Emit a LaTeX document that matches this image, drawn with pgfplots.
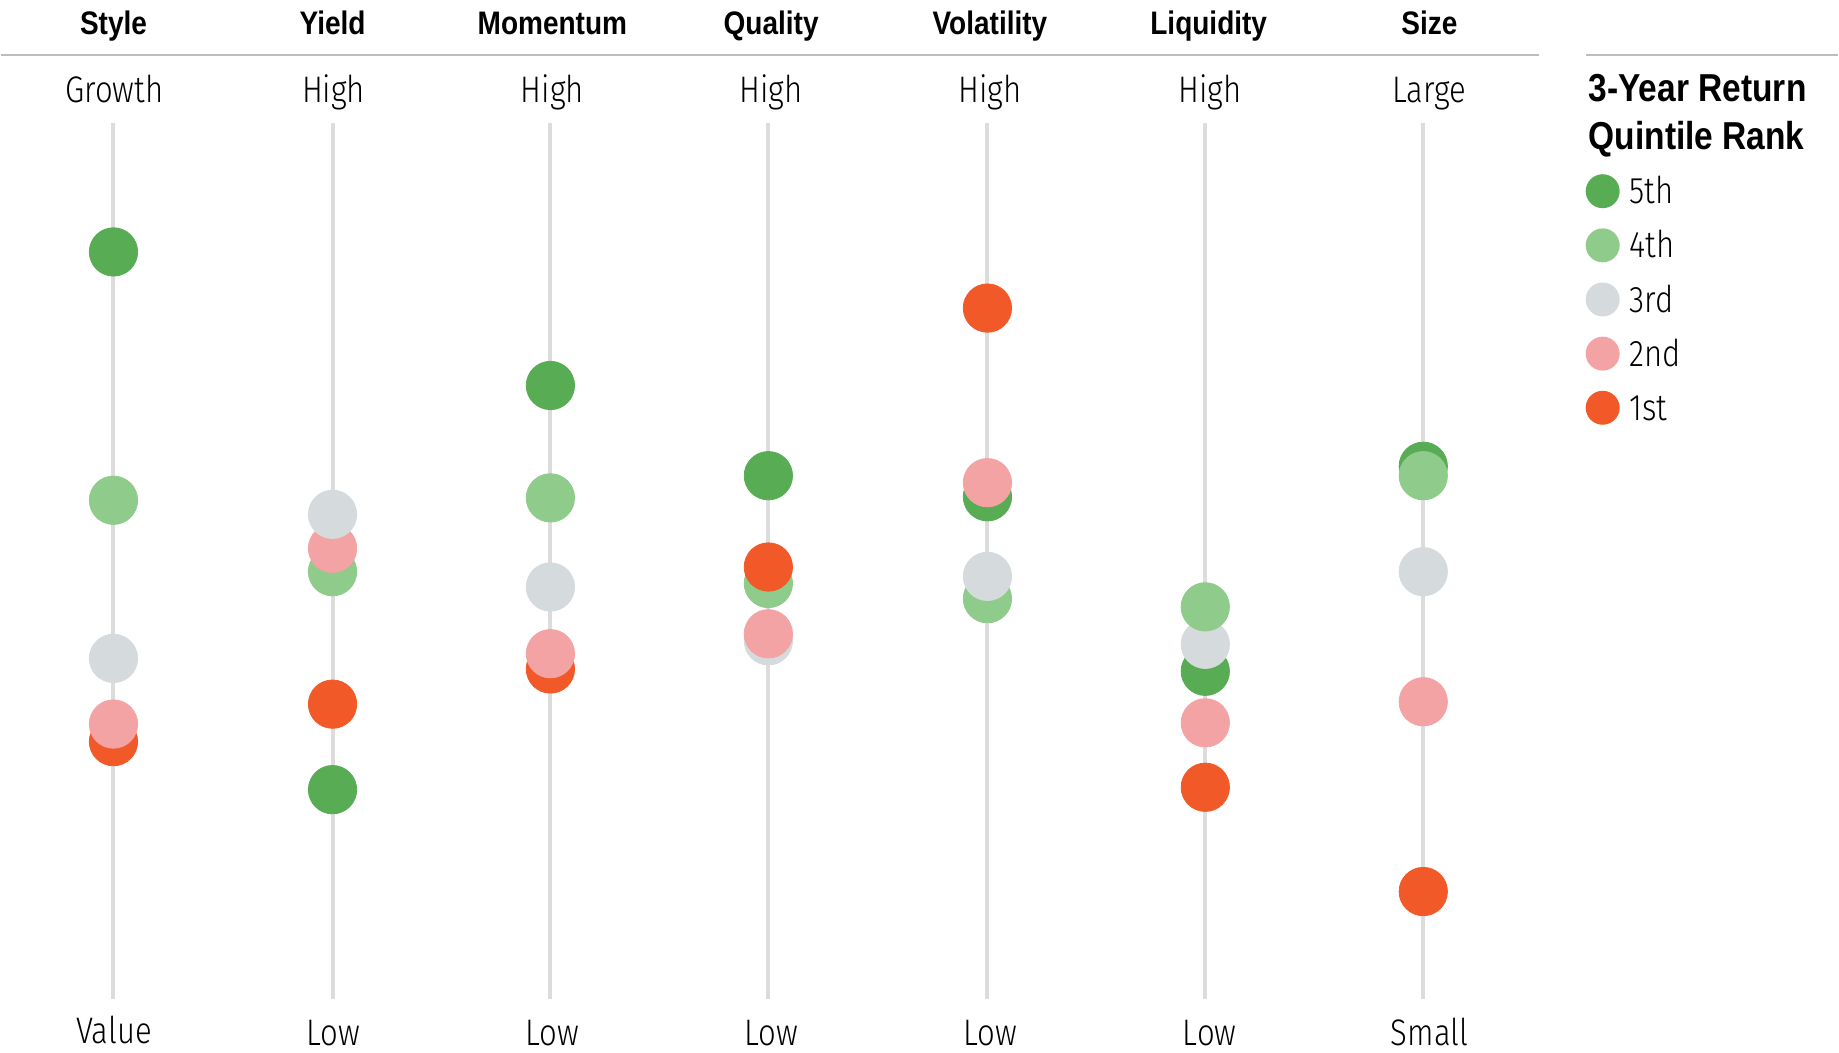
\documentclass[border=0pt]{standalone}
\usepackage{pgfplots}
\pgfplotsset{compat=1.18}
\usepackage{pgfplotstable}
\usepackage{fontspec}
\setmainfont{Liberation Sans}[FakeStretch=0.86, BoldFeatures={FakeStretch=0.86}]
\newfontfamily\lightfont{Fira Sans Light}[FakeStretch=0.84]
\definecolor{c5}{HTML}{58AC54}
\definecolor{c4}{HTML}{8FCB8A}
\definecolor{c3}{HTML}{D5DADC}
\definecolor{c2}{HTML}{F4A3A5}
\definecolor{c1}{HTML}{F15A28}
\definecolor{stem}{HTML}{DCDCDC}
\definecolor{rule}{HTML}{BDBDBD}
\newcommand{\lab}{\lightfont\fontsize{18.5}{22}\selectfont}
\newcommand{\hdr}{\fontsize{16.3}{19}\selectfont\bfseries}
\newcommand{\ttl}{\fontsize{19.5}{23}\selectfont\bfseries}

% x = factor column (pixel position), y = vertical position (pixels from top), rank = quintile
\pgfplotstableread{
x      y      rank
112.6  742.4  r1
112.6  724.8  r2
112.6  659.1  r3
112.6  500.8  r4
112.6  252.2  r5
331.9  790.5  r5
331.9  704.9  r1
331.9  572.3  r4
331.9  548.9  r2
331.9  514.9  r3
550.0  669.7  r1
550.0  654.4  r2
550.0  587.6  r3
550.0  498.4  r4
550.0  385.9  r5
768.2  641.5  r3
768.2  634.5  r2
768.2  584.1  r4
768.2  567.6  r1
768.2  476.2  r5
987.5  599.3  r4
987.5  577.0  r3
987.5  497.3  r5
987.5  483.2  r2
987.5  308.4  r1
1205.6 788.1  r1
1205.6 723.6  r2
1205.6 672.0  r5
1205.6 645.0  r3
1205.6 607.5  r4
1423.8 892.5  r1
1423.8 702.5  r2
1423.8 572.3  r3
1423.8 466.8  r5
1423.8 476.2  r4
}\dots

\begin{document}
\begin{tikzpicture}
\begin{axis}[
  width=919.5pt, height=526.5pt, scale only axis,
  xmin=0, xmax=1839, ymin=0, ymax=1053, y dir=reverse,
  hide axis, clip=false,
  legend style={draw=none, fill=none, at={(axis cs:1586,174)}, anchor=north west,
    inner sep=0pt, row sep=10.1pt, column sep=5pt, font=\lab,
    nodes={inner sep=0pt, anchor=base west}},
  legend cell align=left,
  legend image code/.code={\fill[#1] (8.5pt,6.3pt) circle (8.5pt);},
]
% stems
\foreach \xx in {112.6,331.9,550.0,768.2,987.5,1205.6,1423.8}{
  \edef\tmp{\noexpand\addplot[stem, line width=2pt, forget plot] coordinates {(\xx,123) (\xx,1000)};}
  \tmp
}
% dots
\addplot[scatter, only marks, forget plot, scatter src=explicit symbolic,
  scatter/classes={
    r5={mark=*, mark size=12.1pt, draw=c5, fill=c5},
    r4={mark=*, mark size=12.1pt, draw=c4, fill=c4},
    r3={mark=*, mark size=12.1pt, draw=c3, fill=c3},
    r2={mark=*, mark size=12.1pt, draw=c2, fill=c2},
    r1={mark=*, mark size=12.1pt, draw=c1, fill=c1}}]
  table[x=x, y=y, meta=rank] {\dots};

\addlegendimage{fill=c5, draw=none}\addlegendentry{5th}
\addlegendimage{fill=c4, draw=none}\addlegendentry{4th}
\addlegendimage{fill=c3, draw=none}\addlegendentry{3rd}
\addlegendimage{fill=c2, draw=none}\addlegendentry{2nd}
\addlegendimage{fill=c1, draw=none}\addlegendentry{1st}

% rules
\draw[rule, line width=1pt] (axis cs:0,55) -- (axis cs:1540,55);
\draw[rule, line width=1pt] (axis cs:1587,55) -- (axis cs:1839,55);

% headers
\node[anchor=base, font=\hdr] at (axis cs:112.6,35) {Style};
\node[anchor=base, font=\hdr] at (axis cs:332,35) {Yield};
\node[anchor=base, font=\hdr] at (axis cs:552,35) {Momentum};
\node[anchor=base, font=\hdr] at (axis cs:771,35) {Quality};
\node[anchor=base, font=\hdr] at (axis cs:990,35) {Volatility};
\node[anchor=base, font=\hdr] at (axis cs:1209,35) {Liquidity};
\node[anchor=base, font=\hdr] at (axis cs:1430,35) {Size};

% top labels
\node[anchor=base, font=\lab] at (axis cs:113.5,103) {Growth};
\node[anchor=base, font=\lab] at (axis cs:333,103) {High};
\node[anchor=base, font=\lab] at (axis cs:552,103) {High};
\node[anchor=base, font=\lab] at (axis cs:771,103) {High};
\node[anchor=base, font=\lab] at (axis cs:990,103) {High};
\node[anchor=base, font=\lab] at (axis cs:1210,103) {High};
\node[anchor=base, font=\lab] at (axis cs:1430,103) {Large};

% bottom labels
\node[anchor=base, font=\lab] at (axis cs:113,1045) {Value};
\node[anchor=base, font=\lab] at (axis cs:333,1047) {Low};
\node[anchor=base, font=\lab] at (axis cs:552,1047) {Low};
\node[anchor=base, font=\lab] at (axis cs:771,1047) {Low};
\node[anchor=base, font=\lab] at (axis cs:990,1047) {Low};
\node[anchor=base, font=\lab] at (axis cs:1210,1047) {Low};
\node[anchor=base, font=\lab] at (axis cs:1430,1047) {Small};

% legend title
\node[anchor=base west, font=\ttl, inner sep=0pt] at (axis cs:1589,102) {3-Year Return};
\node[anchor=base west, font=\ttl, inner sep=0pt] at (axis cs:1589,150) {Quintile Rank};
\end{axis}
\path (current axis.south west) rectangle (current axis.north east);
\end{tikzpicture}
\end{document}
